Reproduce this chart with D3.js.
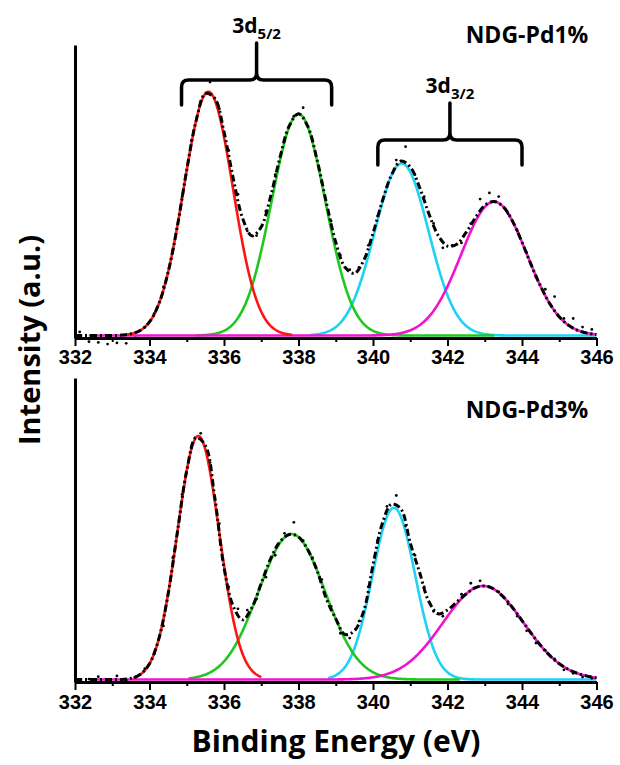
<!DOCTYPE html>
<html>
<head>
<meta charset="utf-8">
<script src="https://cdn.jsdelivr.net/npm/d3@7"></script>
<style>
  body { margin: 0; background: #fff; }
</style>
</head>
<body>
<div id="chart"></div>
<script>
// Pd 3d XPS spectra, two samples, each fitted with 4 gaussian components

// Axis ticks (binding energy, eV)
const majorTicks = [332, 334, 336, 338, 340, 342, 344, 346]
const minorTicks = [333, 335, 337, 339, 341, 343, 345]

const panelNames = ['NDG-Pd1%', 'NDG-Pd3%']
const componentColors = ['#ff1414', '#1ec81e', '#1ed2f5', '#f014d2']

// Fitted components (red, green, cyan, magenta): centre eV, height, fwhm eV, drawn range
const pd1Centers = [335.58, 338.0, 340.77, 343.25]
const pd1Heights = [100, 90.9, 70.6, 54.9]
const pd1Fwhm = [1.55, 1.70, 1.70, 2.08]
const pd1From = [333.37, 335.27, 338.31, 332.37]
const pd1To = [337.83, 343.25, 346, 346]

const pd3Centers = [335.31, 337.82, 340.56, 342.96]
const pd3Heights = [99.9, 59.7, 70.5, 38.4]
const pd3Fwhm = [1.32, 2.10, 1.35, 2.55]
const pd3From = [333.56, 335.05, 338.79, 332.4]
const pd3To = [337.01, 342.34, 346, 346]

// Envelope (black dashed), every 0.25 eV from 332 to 346
const pd1Envelope = [0, 0, 0, 0, 0, 0.2, 0.7, 2.1, 5.6, 13, 26, 45, 68, 88, 99.3, 97.4,
    83.6, 64.3, 48.1, 40.9, 44.6, 57, 72.9, 86, 91, 85.8, 72, 54.4, 38.3, 28, 25.5, 30.8,
    42, 55.1, 66, 71.6, 69.2, 60.8, 50, 41.1, 36.7, 37.5, 42.3, 48.4, 53.4, 55, 52.8, 46.8,
    38.3, 28.9, 20.2, 13, 7.7, 4.2, 2.1, 1, 0.4]
const pd3Envelope = [0, 0, 0, 0, 0, 0, 0.5, 2.1, 6.5, 16.7, 35.1, 60.6, 85.7, 99.3, 96, 75,
    46, 30, 24.5, 29.5, 39.5, 49.5, 56.5, 59.5, 58.5, 53.2, 44.7, 33, 25, 18.5, 20, 28,
    47, 64, 72, 70, 56, 44, 32, 27, 28.5, 31.9, 35.1, 37.7, 38.4, 37.1, 33.9, 29.4,
    24.2, 18.9, 14, 9.8, 6.5, 4.1, 2.5, 1.4, 0.7]

// Measured points (dots), every 0.25 eV from 332.125 to 345.875
const pd1Points = [1.5, -2.5, -2.8, -3.5, -3, -3.2, -1, 3.5, 9, 20, 35, 57, 80, 96, 104, 93,
    76, 58, 43, 41, 51, 66, 80, 90, 93.5, 80, 63, 47, 33, 27, 28, 37, 49, 61, 72, 77.5,
    66, 57, 46, 36, 37, 38, 46, 56, 58.5, 57, 50, 43, 34, 24, 19, 16, 7, 7, 3.5, 2.5]
const pd3Points = [-0.3, 0.2, 1.2, 0, 1.5, -0.2, 0.8, 4.5, 10.5, 22, 50, 76, 95, 101, 89, 64,
    38, 29, 28.5, 33, 42, 51, 60, 64.5, 57, 50, 41, 30, 19, 17, 24, 38, 57, 71, 75.5, 63,
    51, 38, 28, 26, 30, 35, 39.5, 40.5, 38, 36, 31, 26, 20, 15, 12, 8.5, 4, 2.5, 1, 0.5]

// Brace annotations on the top panel
const braceMain = ['3d', '3d']
const braceSub = ['5/2', '3/2']
const braceFrom = [334.86, 340.13]
const braceTo = [338.89, 344.0]
const braceLevel = [104.8, 80.2]

// Constants
const width = 620
const height = 765
const fontTitle = '"Open Sans", sans-serif'
const fontTick = '"Liberation Sans", Arial, sans-serif'

const svg = d3.select('#chart')
    .append('svg')
    .attr('width', width)
    .attr('height', height)
    .style('background', '#fff')

const x = d3.scaleLinear()
    .domain([332, 346])
    .range([75, 596.5])

const gauss = (e, c, h, w) => h * Math.exp(-4 * Math.LN2 * (e - c) * (e - c) / (w * w))

const panels = [
    { name: panelNames[0], centers: pd1Centers, heights: pd1Heights, fwhm: pd1Fwhm,
      from: pd1From, to: pd1To, envelope: pd1Envelope, points: pd1Points,
      axisY: 338, top: 45, yMax: 119.2, pad: 4, labelY: 43 },
    { name: panelNames[1], centers: pd3Centers, heights: pd3Heights, fwhm: pd3Fwhm,
      from: pd3From, to: pd3To, envelope: pd3Envelope, points: pd3Points,
      axisY: 682, top: 378, yMax: 123.7, pad: 5, labelY: 418 }
]

const drawOrder = [2, 1, 3, 0]

panels.forEach((p, pi) => {
    const y = d3.scaleLinear()
        .domain([-1, p.yMax])
        .range([p.axisY, p.top])

    const g = svg.append('g').attr('class', 'panel')

    // components
    const line = d3.line()
        .x(d => x(d[0]))
        .y(d => y(d[1]))

    drawOrder.forEach(k => {
        const pts = d3.range(p.from[k], p.to[k] + 0.0001, 0.02)
            .map(e => [e, gauss(e, p.centers[k], p.heights[k], p.fwhm[k])])
        g.append('path')
            .datum(pts)
            .attr('d', line)
            .attr('fill', 'none')
            .attr('stroke', componentColors[k])
            .attr('stroke-width', 2.6)
    })

    // envelope
    const env = p.envelope.map((v, i) => [332 + i * 0.25, v])
    g.append('path')
        .datum(env)
        .attr('d', line.curve(d3.curveCatmullRom))
        .attr('fill', 'none')
        .attr('stroke', '#000')
        .attr('stroke-width', 3)
        .attr('stroke-dasharray', '7,3,2,3')

    // measured dots
    g.selectAll('.dot')
        .data(p.points)
        .enter()
        .append('circle')
        .attr('class', 'dot')
        .attr('cx', (d, i) => x(332.125 + i * 0.25))
        .attr('cy', d => y(d))
        .attr('r', 1.4)
        .attr('fill', '#000')

    // axes
    const major = d3.axisBottom(x)
        .tickValues(majorTicks)
        .tickSize(8)
        .tickSizeOuter(0)
        .tickPadding(p.pad)
        .tickFormat(d3.format('d'))
    const minor = d3.axisBottom(x)
        .tickValues(minorTicks)
        .tickSize(4)
        .tickFormat('')

    const xg = g.append('g')
        .attr('transform', `translate(0, ${p.axisY})`)
        .call(major)
    xg.select('.domain').attr('stroke-width', 3)
    xg.selectAll('.tick line').attr('stroke-width', 2)
    xg.selectAll('text')
        .style('font-family', fontTick)
        .style('font-weight', 'bold')
        .style('font-size', '20px')
        .attr('fill', '#000')

    const mg = g.append('g')
        .attr('transform', `translate(0, ${p.axisY})`)
        .call(minor)
    mg.select('.domain').remove()
    mg.selectAll('.tick line').attr('stroke-width', 2)

    const yg = g.append('g')
        .attr('transform', 'translate(75, 0)')
        .call(d3.axisLeft(y).tickValues([]).tickSizeOuter(0))
    yg.select('.domain').attr('stroke-width', 3)

    // sample name
    g.append('text')
        .attr('x', 527)
        .attr('y', p.labelY)
        .attr('text-anchor', 'middle')
        .style('font-family', fontTitle)
        .style('font-weight', 'bold')
        .style('font-size', '23px')
        .text(p.name)

    // braces only on top panel
    if (pi === 0) {
        braceMain.forEach((t, i) => {
            const x1 = x(braceFrom[i])
            const x2 = x(braceTo[i])
            const xc = (x1 + x2) / 2
            const yh = y(braceLevel[i])
            const r = 7
            const yEnd = yh + 25
            const ySpike = yh - 37
            const path = d3.path()
            path.moveTo(x1, yEnd)
            path.lineTo(x1, yh + r)
            path.quadraticCurveTo(x1, yh, x1 + r, yh)
            path.lineTo(xc - r, yh)
            path.quadraticCurveTo(xc, yh, xc, yh - r)
            path.lineTo(xc, ySpike)
            path.moveTo(xc, yh - r)
            path.quadraticCurveTo(xc, yh, xc + r, yh)
            path.lineTo(x2 - r, yh)
            path.quadraticCurveTo(x2, yh, x2, yh + r)
            path.lineTo(x2, yEnd)
            g.append('path')
                .attr('d', path.toString())
                .attr('fill', 'none')
                .attr('stroke', '#000')
                .attr('stroke-width', 3.5)
                .attr('stroke-linecap', 'round')

            const label = g.append('text')
                .attr('x', xc)
                .attr('y', ySpike - 10)
                .attr('text-anchor', 'middle')
                .style('font-family', fontTitle)
                .style('font-weight', 'bold')
                .style('font-size', '21px')
            label.append('tspan').text(t)
            label.append('tspan')
                .attr('dy', 6)
                .style('font-size', '15px')
                .text(braceSub[i])
        })
    }
})

// axis titles
svg.append('text')
    .attr('transform', 'translate(40, 340) rotate(-90)')
    .attr('text-anchor', 'middle')
    .style('font-family', fontTitle)
    .style('font-weight', 'bold')
    .style('font-size', '29px')
    .text('Intensity (a.u.)')

svg.append('text')
    .attr('x', 336)
    .attr('y', 752)
    .attr('text-anchor', 'middle')
    .style('font-family', fontTitle)
    .style('font-weight', 'bold')
    .style('font-size', '30px')
    .text('Binding Energy (eV)')
</script>
</body>
</html>
